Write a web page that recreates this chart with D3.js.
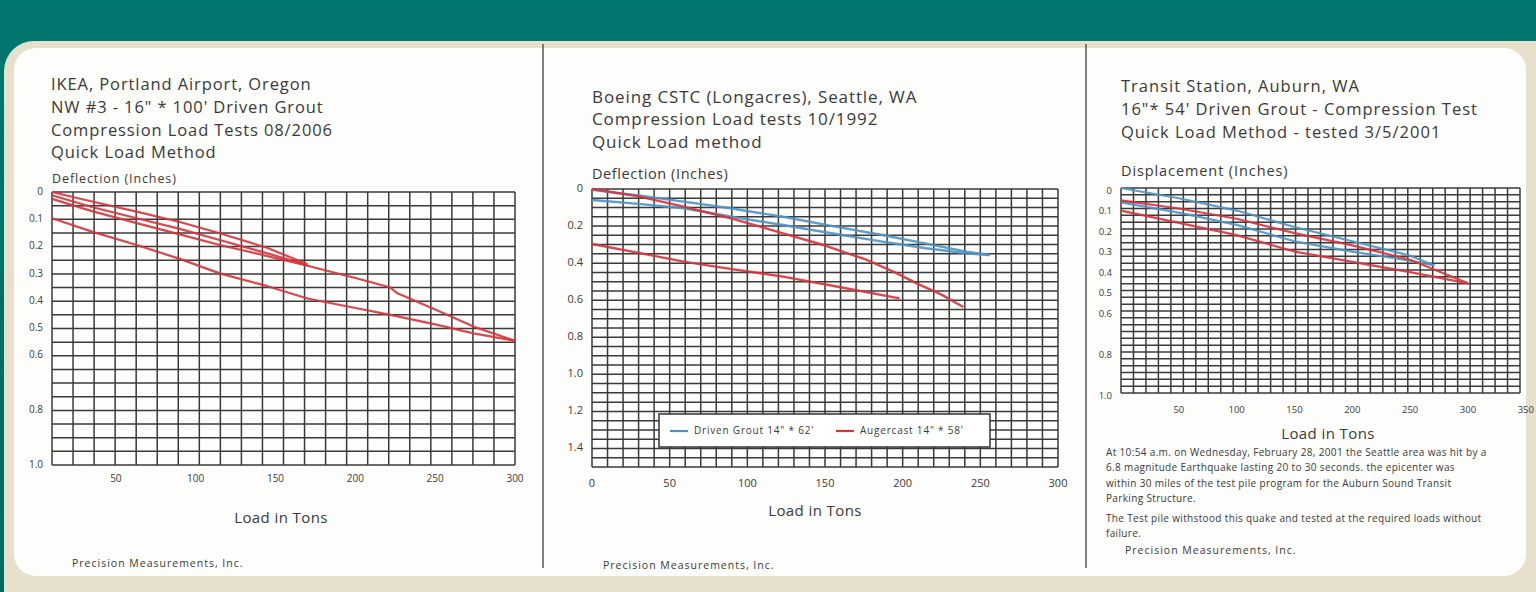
<!DOCTYPE html>
<meta charset="utf-8">
<script src="https://d3js.org/d3.v7.min.js"></script>
<style>
  body { margin: 0; background: #00736b; }
  text { font-family: "Open Sans", sans-serif; fill: #3a3a3a; }
</style>
<body>
<div id="chart"></div>
<script>
// ---- panel 1 : IKEA, Portland Airport (load in tons, deflection in inches)
var p1Load1   = [[10,0.0],[35,0.035],[63,0.072],[90,0.11],[115,0.151],[145,0.205],[170,0.265]];
var p1Unload1 = [[170,0.268],[145,0.225],[115,0.176],[90,0.135],[63,0.096],[35,0.055],[10,0.012]];
var p1Reload  = [[10,0.025],[35,0.07],[63,0.114],[90,0.155],[115,0.194],[145,0.235],[170,0.27],[200,0.315],[222,0.35],[226,0.37],[250,0.43],[274,0.493],[300,0.545]];
var p1Unload2 = [[300,0.545],[274,0.518],[250,0.485],[222,0.45],[200,0.425],[170,0.39],[145,0.345],[115,0.298],[90,0.245],[63,0.194],[35,0.145],[10,0.096]];
var p1YTicks  = [0,0.1,0.2,0.3,0.4,0.5,0.6,0.8,1.0];
var p1XTicks  = [50,100,150,200,250,300];

// ---- panel 2 : Boeing CSTC
var p2BlueLoad   = [[0,0.005],[30,0.035],[59,0.068],[90,0.105],[123,0.15],[155,0.2],[187,0.248],[215,0.295],[241,0.338],[256,0.356]];
var p2BlueUnload = [[256,0.356],[241,0.347],[215,0.32],[187,0.284],[155,0.24],[123,0.194],[90,0.15],[59,0.104],[30,0.08],[0,0.059]];
var p2RedLoad    = [[0,0.0],[30,0.04],[59,0.095],[90,0.16],[123,0.239],[150,0.305],[177,0.383],[195,0.45],[209,0.509],[225,0.57],[239,0.637]];
var p2RedUnload  = [[0,0.297],[30,0.345],[59,0.392],[90,0.432],[123,0.473],[160,0.53],[198,0.59]];
var p2YTicks  = [0,0.2,0.4,0.6,0.8,1.0,1.2,1.4];
var p2XTicks  = [0,50,100,150,200,250,300];
var p2Legend  = ["Driven Grout 14\" * 62'", "Augercast 14\" * 58'"];

// ---- panel 3 : Transit Station, Auburn
var p3BlueA = [[0,0.0],[50,0.05],[100,0.11],[150,0.19],[200,0.26],[250,0.33],[271,0.378]];
var p3BlueB = [[0,0.07],[50,0.12],[100,0.18],[150,0.26],[200,0.31],[250,0.355],[271,0.378]];
var p3RedA  = [[0,0.06],[50,0.1],[100,0.15],[150,0.22],[200,0.28],[250,0.35],[300,0.465]];
var p3RedB  = [[0,0.11],[50,0.17],[100,0.23],[150,0.31],[200,0.36],[250,0.41],[300,0.465]];
var p3YTicks = [0,0.1,0.2,0.3,0.4,0.5,0.6,0.8,1.0];
var p3XTicks = [50,100,150,200,250,300,350];

var p3Note = [
  "At 10:54 a.m. on Wednesday, February 28, 2001 the Seattle area was hit by a",
  "6.8 magnitude Earthquake lasting 20 to 30 seconds. the epicenter was",
  "within 30 miles of the test pile program for the Auburn Sound Transit",
  "Parking Structure.",
  "The Test pile withstood this quake and tested at the required loads without",
  "failure."
];

var RED = "#d8323c", BLUE = "#4c93c4";

var W = 1536, H = 592;
var svg = d3.select("#chart").append("svg")
  .attr("width", W).attr("height", H);

// background card
var defs = svg.append("defs");
var tg = defs.append("linearGradient").attr("id", "teal").attr("x1", 0).attr("y1", 0).attr("x2", 0).attr("y2", 1);
tg.append("stop").attr("offset", "0%").attr("stop-color", "#00776f");
tg.append("stop").attr("offset", "100%").attr("stop-color", "#006a5e");
svg.append("rect").attr("width", W).attr("height", H).attr("fill", "url(#teal)");
svg.append("rect").attr("x", 4).attr("y", 41).attr("width", W + 40).attr("height", 600)
  .attr("rx", 30).attr("fill", "#e7e0cc");
svg.append("rect").attr("x", 14).attr("y", 48).attr("width", W - 24).attr("height", 528)
  .attr("rx", 22).attr("fill", "#fdfdfb");

// separators
[543, 1086].forEach(function(x) {
  svg.append("line").attr("x1", x).attr("x2", x).attr("y1", 44).attr("y2", 568)
    .attr("stroke", "#4a4a4a").attr("stroke-width", 1.4);
});

function drawPanel(o) {
  var x = d3.scaleLinear().domain(o.xDomain).range([o.left, o.right]);
  var y = d3.scaleLinear().domain(o.yDomain).range([o.top, o.bottom]);
  var g = svg.append("g");

  // grid
  var grid = g.append("g").attr("stroke", "#3a3a3a").attr("stroke-width", 1.5);
  d3.range(o.cols + 1).forEach(function(i) {
    var v = o.xDomain[0] + i * (o.xDomain[1] - o.xDomain[0]) / o.cols;
    grid.append("line").attr("x1", x(v)).attr("x2", x(v)).attr("y1", y(o.yDomain[0])).attr("y2", y(o.yDomain[1]));
  });
  d3.range(o.rows + 1).forEach(function(i) {
    var v = o.yDomain[0] + i * (o.yDomain[1] - o.yDomain[0]) / o.rows;
    grid.append("line").attr("y1", y(v)).attr("y2", y(v)).attr("x1", x(o.xDomain[0])).attr("x2", x(o.xDomain[1]));
  });

  // y tick labels
  g.selectAll(".yl").data(o.yTicks).enter().append("text")
    .attr("x", o.left - 9).attr("y", function(d) { return y(d) + o.yShift; })
    .attr("text-anchor", "end").attr("dominant-baseline", "middle")
    .style("font-size", o.tickSize + "px")
    .text(function(d) { return d === 0 ? "0" : d3.format(".1f")(d); });

  // x tick labels
  g.selectAll(".xl").data(o.xTicks).enter().append("text")
    .attr("x", function(d) { return x(d); }).attr("y", o.xLabelY)
    .attr("text-anchor", "middle").attr("dominant-baseline", "middle")
    .style("font-size", o.tickSize + "px")
    .text(function(d) { return d; });

  // series
  var line = d3.line().x(function(d) { return x(d[0]); }).y(function(d) { return y(d[1]); });
  o.series.forEach(function(s) {
    g.append("path").attr("d", line(s.data)).attr("fill", "none")
      .attr("stroke", s.color).attr("stroke-width", o.lineWidth)
      .attr("stroke-opacity", 0.9).attr("stroke-linejoin", "round");
  });

  // titles
  o.title.forEach(function(t, i) {
    g.append("text").attr("x", o.titleX).attr("y", o.titleY + i * o.titleStep)
      .attr("dominant-baseline", "middle").style("font-size", o.titleSize + "px")
      .style("letter-spacing", o.titleLs + "px").text(t);
  });
  g.append("text").attr("x", o.left).attr("y", o.yTitleY).attr("dominant-baseline", "middle")
    .style("font-size", o.yTitleSize + "px").style("letter-spacing", o.yTitleLs + "px").text(o.yTitle);
  g.append("text").attr("x", o.xTitleX).attr("y", o.xTitleY).attr("text-anchor", "middle")
    .attr("dominant-baseline", "middle").style("font-size", "15px").style("letter-spacing", "0.4px")
    .text("Load in Tons");
  g.append("text").attr("x", o.footX).attr("y", o.footY).attr("dominant-baseline", "middle")
    .style("font-size", o.footSize + "px").style("letter-spacing", "1px")
    .text("Precision Measurements, Inc.");
  return {x: x, y: y, g: g};
}

drawPanel({
  left: 52, right: 515, top: 192, bottom: 465,
  xDomain: [10, 300], yDomain: [0, 1], cols: 22, rows: 20,
  yTicks: p1YTicks, xTicks: p1XTicks, tickSize: 10, yShift: 0, xLabelY: 479,
  lineWidth: 2.2,
  series: [
    {data: p1Load1, color: RED}, {data: p1Unload1, color: RED},
    {data: p1Reload, color: RED}, {data: p1Unload2, color: RED}
  ],
  title: ["IKEA, Portland Airport, Oregon", "NW #3 - 16\" * 100' Driven Grout",
          "Compression Load Tests 08/2006", "Quick Load Method"],
  titleX: 51, titleY: 86, titleStep: 22.6, titleSize: 16.5, titleLs: 0.9,
  yTitle: "Deflection (Inches)", yTitleY: 180, yTitleSize: 12.5, yTitleLs: 0.9,
  xTitleX: 281, xTitleY: 519,
  footX: 72, footY: 564, footSize: 10.5
});

var p2 = drawPanel({
  left: 592, right: 1058, top: 189, bottom: 467,
  xDomain: [0, 300], yDomain: [0, 1.5], cols: 30, rows: 30,
  yTicks: p2YTicks, xTicks: p2XTicks, tickSize: 11, yShift: 0, xLabelY: 484,
  lineWidth: 2.4,
  series: [
    {data: p2BlueLoad, color: BLUE}, {data: p2BlueUnload, color: BLUE},
    {data: p2RedLoad, color: RED}, {data: p2RedUnload, color: RED}
  ],
  title: ["Boeing CSTC (Longacres), Seattle, WA", "Compression Load tests 10/1992", "Quick Load method"],
  titleX: 592, titleY: 98, titleStep: 22.5, titleSize: 17, titleLs: 0.9,
  yTitle: "Deflection (Inches)", yTitleY: 175, yTitleSize: 14.5, yTitleLs: 0.6,
  xTitleX: 815, xTitleY: 512,
  footX: 603, footY: 566, footSize: 10.5
});

// legend for panel 2
var lg = p2.g.append("g");
lg.append("rect").attr("x", 659).attr("y", 414).attr("width", 331).attr("height", 33)
  .attr("fill", "#ffffff").attr("stroke", "#333").attr("stroke-width", 1.5);
[[670, BLUE, p2Legend[0]], [836, RED, p2Legend[1]]].forEach(function(e) {
  lg.append("line").attr("x1", e[0]).attr("x2", e[0] + 18).attr("y1", 431).attr("y2", 431)
    .attr("stroke", e[1]).attr("stroke-width", 2.2);
  lg.append("text").attr("x", e[0] + 24).attr("y", 431).attr("dominant-baseline", "middle")
    .style("font-size", "10px").style("letter-spacing", "0.8px").text(e[2]);
});

drawPanel({
  left: 1121, right: 1520, top: 188, bottom: 393,
  xDomain: [0, 345], yDomain: [0, 1], cols: 32, rows: 30,
  yTicks: p3YTicks, xTicks: p3XTicks, tickSize: 9.5, yShift: 3, xLabelY: 410,
  lineWidth: 2.2,
  series: [
    {data: p3BlueA, color: BLUE}, {data: p3BlueB, color: BLUE},
    {data: p3RedA, color: RED}, {data: p3RedB, color: RED}
  ],
  title: ["Transit Station, Auburn, WA", "16\"* 54' Driven Grout - Compression Test",
          "Quick Load Method - tested 3/5/2001"],
  titleX: 1121, titleY: 88, titleStep: 23, titleSize: 16.5, titleLs: 1,
  yTitle: "Displacement (Inches)", yTitleY: 172, yTitleSize: 14.5, yTitleLs: 0.9,
  xTitleX: 1328, xTitleY: 435,
  footX: 1125, footY: 551, footSize: 10.5
});

// note under panel 3
svg.append("g").selectAll("text").data(p3Note).enter().append("text")
  .attr("x", 1106)
  .attr("y", function(d, i) { return 453 + i * 15.5 + (i > 3 ? 4 : 0); })
  .attr("dominant-baseline", "middle")
  .style("font-size", "10px").style("letter-spacing", "0.35px")
  .text(function(d) { return d; });
</script>
</body>
